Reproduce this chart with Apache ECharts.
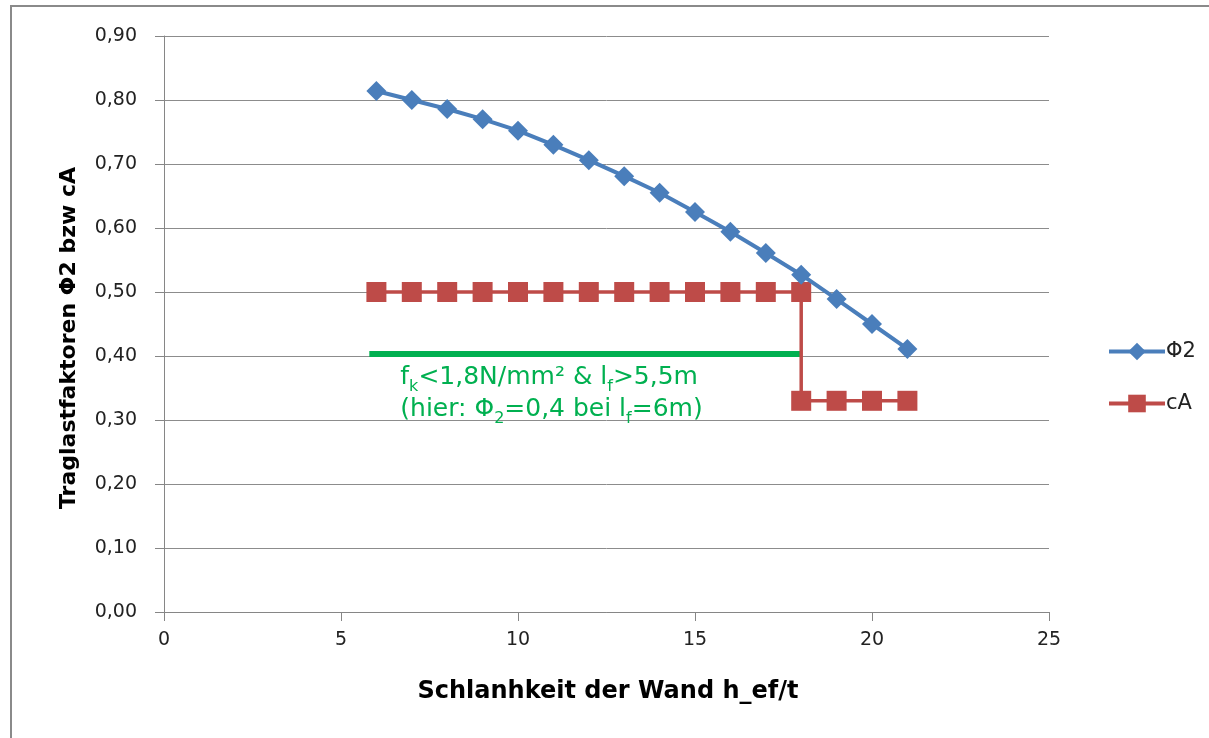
<!DOCTYPE html>
<html><head><meta charset="utf-8">
<script src="https://cdn.jsdelivr.net/npm/echarts@6/dist/echarts.min.js"></script>
<style>html,body{margin:0;padding:0;background:#fff}#c{width:1209px;height:738px}</style>
</head><body><div id="c"></div>
<script>
const phiX = [6,7,8,9,10,11,12,13,14,15,16,17,18,19,20,21];
const phiY = [0.814,0.800,0.786,0.770,0.752,0.730,0.706,0.681,0.655,0.625,0.594,0.561,0.527,0.489,0.450,0.411];
const cAX = [6,7,8,9,10,11,12,13,14,15,16,17,18,18,19,20,21];
const cAY = [0.5,0.5,0.5,0.5,0.5,0.5,0.5,0.5,0.5,0.5,0.5,0.5,0.5,0.33,0.33,0.33,0.33];
const greenX = [5.8,18];
const greenY = [0.403,0.403];
const yTicks = {min:0,max:0.9,interval:0.1};
const xTicks = {min:0,max:25,interval:5};
const xTitle = 'Schlanhkeit der Wand h_ef/t';
const yTitle = 'Traglastfaktoren Φ2 bzw cA';

const FONT = '"DejaVu Sans", "Noto Sans", sans-serif';
const chart = echarts.init(document.getElementById('c'));
const zip = (a,b)=>a.map((v,i)=>[v,b[i]]);
chart.setOption({
  animation:false,
  grid:{left:164,right:160,top:36,bottom:126},
  xAxis:{type:'value',min:xTicks.min,max:xTicks.max,interval:xTicks.interval,
    axisLine:{lineStyle:{color:'#868686',width:1}},
    axisTick:{show:true,length:9,lineStyle:{color:'#868686'}},
    axisLabel:{fontFamily:FONT,fontSize:19,color:'#222',margin:19},
    splitLine:{show:false}},
  yAxis:{type:'value',min:yTicks.min,max:yTicks.max,interval:yTicks.interval,
    axisLine:{show:true,lineStyle:{color:'#868686',width:1}},
    axisTick:{show:true,length:9,lineStyle:{color:'#868686'}},
    axisLabel:{fontFamily:FONT,fontSize:19,color:'#222',margin:27,
      formatter:v=>v.toFixed(2).replace('.',',')},
    splitLine:{show:true,lineStyle:{color:'#8c8c8c',width:1}}},
  legend:{data:['Φ2','cA'],orient:'vertical',left:1102,top:336,itemGap:31,
    itemWidth:56,itemHeight:22,lineStyle:{width:4},
    textStyle:{fontFamily:FONT,fontSize:21,color:'#222',padding:[0,0,0,-4]}},
  series:[
    {name:'green',type:'line',data:zip(greenX,greenY),symbol:'none',
     lineStyle:{color:'#00b050',width:6},itemStyle:{color:'#00b050'},z:1},
    {name:'cA',type:'line',data:zip(cAX,cAY),symbol:'rect',symbolSize:20,
     lineStyle:{color:'#be4b48',width:3.5},itemStyle:{color:'#be4b48'},z:2},
    {name:'Φ2',type:'line',data:zip(phiX,phiY),symbol:'diamond',symbolSize:[20,20],
     lineStyle:{color:'#4a7ebb',width:4},itemStyle:{color:'#4a7ebb'},z:3}
  ]
});
const p = chart.convertToPixel({gridIndex:0},[greenX[0],greenY[0]]);
chart.setOption({graphic:[
  {type:'rect',shape:{x:11,y:6,width:1400,height:1000},style:{fill:'none',stroke:'#8a8a8a',lineWidth:2},silent:true},
  {type:'text',x:608,y:692,style:{text:xTitle,fontFamily:FONT,fontWeight:'bold',fontSize:24,fill:'#000',align:'center',verticalAlign:'middle'}},
  {type:'text',x:69,y:338,rotation:Math.PI/2,style:{text:yTitle,fontFamily:FONT,fontWeight:'bold',fontSize:22,fill:'#000',align:'center',verticalAlign:'middle'}},
  {type:'text',x:p[0]+31,y:p[1]+4,style:{
    rich:{n:{fontFamily:FONT,fontSize:25,fill:'#00b050',lineHeight:32,verticalAlign:'bottom'},
          s:{fontFamily:FONT,fontSize:16,fill:'#00b050',lineHeight:32,verticalAlign:'bottom',padding:[0,0,-5,0]}},
    text:'{n|f}{s|k}{n|<1,8N/mm² & l}{s|f}{n|>5,5m}\n{n|(hier: Φ}{s|2}{n|=0,4 bei l}{s|f}{n|=6m)}'
  }}
]});
</script></body></html>
